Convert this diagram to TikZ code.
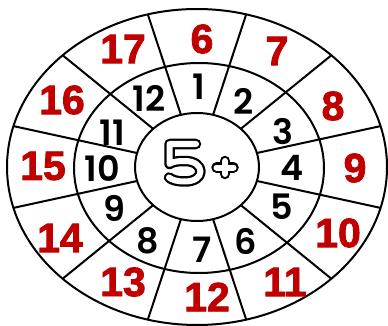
\documentclass[tikz,border=0pt]{standalone}
\usepackage{fontspec}
\setmainfont{Liberation Sans}
\newfontfamily\sumfont{Liberation Sans Bold}[FakeBold=2]
\newfontfamily\kidfont{Poppins SemiBold}
\usetikzlibrary{calc}
\definecolor{cSum}{HTML}{C00000}
\tikzset{
  rim/.style    ={draw=black,line width=2pt},
  sum/.style    ={font=\sumfont\fontsize{41}{41}\selectfont,text=cSum,inner sep=0pt},
  addend/.style ={font=\kidfont\fontsize{35}{35}\selectfont,text=black,inner sep=0pt},
  outl/.style   ={draw=black,line width=10.5pt,line cap=round,line join=round},
  core/.style   ={draw=white,line width=6pt,line cap=round,line join=round},
}

\begin{document}
\begin{tikzpicture}[x=1pt,y=1pt,every node/.style={outer sep=0pt}]
\useasboundingbox (0,0) rectangle (388,-326);
\coordinate (ctr) at (197,-167);
\coordinate (mctr) at (199,-168);

% ---- rings and spokes ---------------------------------------------------
\draw[rim] (ctr) ellipse [x radius=190pt,y radius=158pt];
\draw[rim] (mctr) ellipse [x radius=125pt,y radius=105pt];
\draw[rim] (ctr) ellipse [x radius=62pt,y radius=54pt];
\foreach \t in {15,45,...,345}{
  \draw[rim] ($(ctr)+(\t:62 and 54)$) -- ($(ctr)+(\t:190 and 158)$);
}

% ---- hub: outlined 5+ ---------------------------------------------------
\foreach \s in {outl,core}{
  \draw[\s] (196,-144) -- (169.5,-144) -- (169.5,-164)
    .. controls (173,-161.5) and (178,-161) .. (185,-161)
    .. controls (194,-161) and (200.5,-165.5) .. (200.5,-171.5)
    .. controls (200.5,-177.5) and (194,-181.5) .. (185,-181.5)
    .. controls (177,-181.5) and (172,-180) .. (169,-177.5);
  \draw[\s] (216.5,-167.5) -- (233.5,-167.5) (225,-161) -- (225,-174);
}

% ---- addends (middle ring) ----------------------------------------------
\foreach \n/\x/\y in {1/199/87,2/244/101,3/283/132,4/292/168,5/282/207,
  6/246/241,7/202/250,8/148/241,9/114/208,10/102/168,11/112/133,12/149/98}
{
  \node[addend] (a\n) at (\x,-\y) {\n};
}

% ---- sums (outer ring) --------------------------------------------------
\foreach \n/\x/\y in {6/202/39,7/277/51,8/333/106,9/355/168,10/338/233,
  11/285/282,12/207/297,13/123/282,14/60/238,15/43/166,16/62/100,17/123/49}
{
  \node[sum] (s\n) at (\x,-\y) {\n};
}
\end{tikzpicture}
\end{document}
